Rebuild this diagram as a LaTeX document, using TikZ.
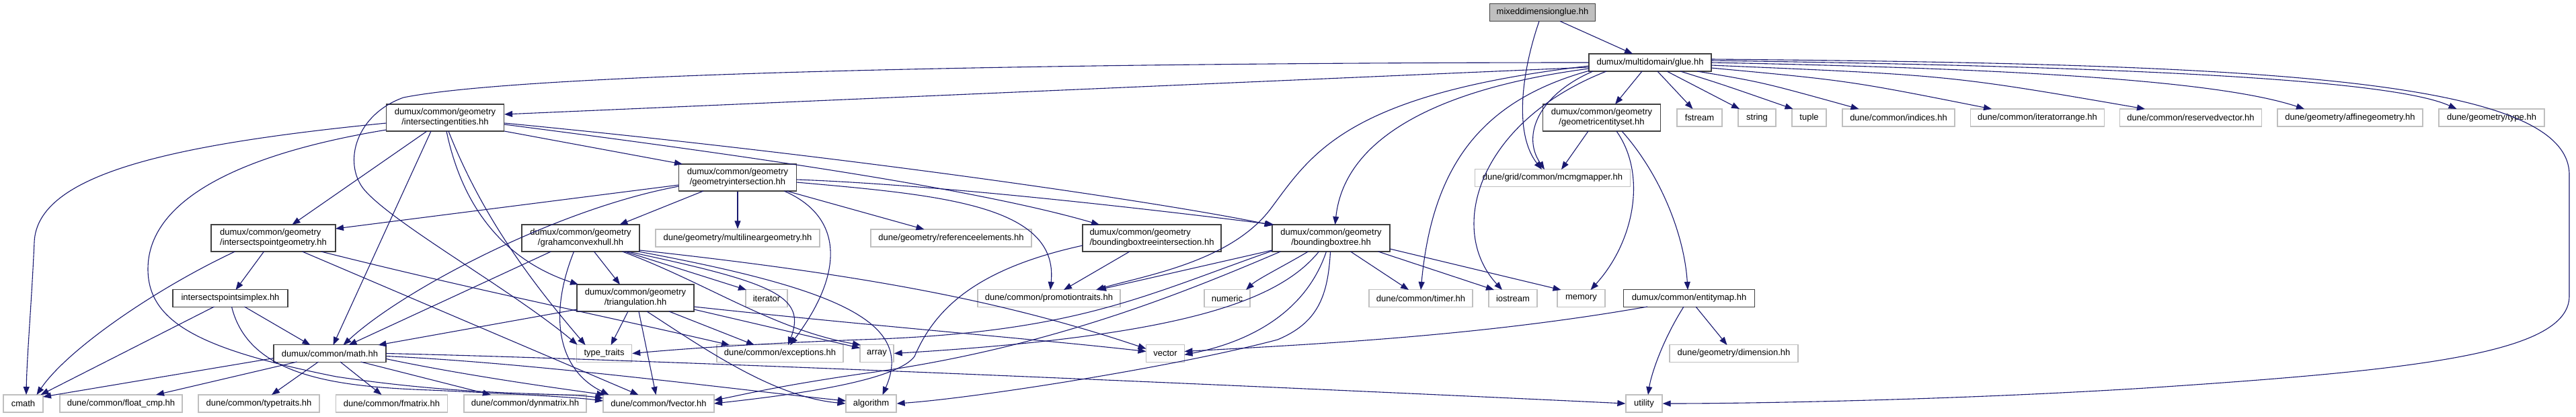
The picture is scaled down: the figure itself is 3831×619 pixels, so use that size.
\documentclass[tikz,border=0pt]{standalone}
\usepackage{fontspec}
\setmainfont{Liberation Sans}
\usetikzlibrary{arrows.meta,calc}
\definecolor{edgecol}{HTML}{191970}
\definecolor{dborder}{HTML}{404040}
\definecolor{xborder}{HTML}{BFBFBF}
\definecolor{rootfill}{HTML}{BFBFBF}
\begin{document}
\begin{tikzpicture}[x=1pt,y=-1pt,
  base/.style={rectangle,line width=1.3pt,inner sep=0pt,align=center,
    font=\fontsize{13}{15}\selectfont,text=black,minimum height=26pt},
  dnode/.style={base,draw=dborder,fill=white},
  xnode/.style={base,draw=xborder,fill=white},
  root/.style={base,draw=dborder,fill=rootfill},
  e/.style={draw=edgecol,line width=1.1pt,-{Triangle[length=12pt,width=9pt]}}]
\useasboundingbox (0,0) rectangle (3831,619);
% ---------- nodes ----------
\node[root,minimum width=157pt] (mdg) at (2294,18.5) {mixeddimensionglue.hh};
\node[dnode,minimum width=182pt] (glue) at (2454,93) {dumux/multidomain/glue.hh};
\node[dnode,minimum width=175pt,minimum height=40pt] (ie) at (662,175) {dumux/common/geometry\\/intersectingentities.hh};
\node[dnode,minimum width=175pt,minimum height=40pt] (gi) at (1097,264) {dumux/common/geometry\\/geometryintersection.hh};
\node[dnode,minimum width=175pt,minimum height=40pt] (ges) at (2382,175) {dumux/common/geometry\\/geometricentityset.hh};
\node[xnode,minimum width=67pt] (fstream) at (2527.5,175) {fstream};
\node[xnode,minimum width=56pt] (string) at (2613,175) {string};
\node[xnode,minimum width=51pt] (tuple) at (2690.5,175) {tuple};
\node[xnode,minimum width=167pt] (indices) at (2823.5,175) {dune/common/indices.hh};
\node[xnode,minimum width=199pt] (iterrange) at (3030,175) {dune/common/iteratorrange.hh};
\node[xnode,minimum width=211pt] (resvec) at (3258,175) {dune/common/reservedvector.hh};
\node[xnode,minimum width=216pt] (affine) at (3495,175) {dune/geometry/affinegeometry.hh};
\node[xnode,minimum width=157pt] (gtype) at (3705.5,175) {dune/geometry/type.hh};
\node[xnode,minimum width=231pt] (mcmg) at (2309,264.5) {dune/grid/common/mcmgmapper.hh};
\node[dnode,minimum width=185pt,minimum height=40pt] (ipg) at (406.5,354) {\begin{tabular}{@{}l@{}}dumux/common/geometry\\/intersectspointgeometry.hh\end{tabular}};
\node[dnode,minimum width=171pt] (ips) at (342.5,443.5) {intersectspointsimplex.hh};
\node[dnode,minimum width=167pt] (math) at (490.5,525.5) {dumux/common/math.hh};
\node[xnode,minimum width=59pt] (cmath) at (34.5,600) {cmath};
\node[xnode,minimum width=182pt] (fcmp) at (180,600) {dune/common/float\_cmp.hh};
\node[xnode,minimum width=180pt] (ttraits) at (385,600) {dune/common/typetraits.hh};
\node[xnode,minimum width=166pt] (fmatrix) at (582.5,600) {dune/common/fmatrix.hh};
\node[xnode,minimum width=182pt] (dynmat) at (781,600) {dune/common/dynmatrix.hh};
\node[xnode,minimum width=165pt] (fvector) at (979.5,600) {dune/common/fvector.hh};
\node[xnode,minimum width=75pt] (algorithm) at (1295.5,600) {algorithm};
\node[dnode,minimum width=175pt,minimum height=40pt] (gch) at (863.5,354) {dumux/common/geometry\\/grahamconvexhull.hh};
\node[xnode,minimum width=244pt] (mlg) at (1097,354) {dune/geometry/multilineargeometry.hh};
\node[dnode,minimum width=174pt,minimum height=40pt] (tri) at (945,443) {dumux/common/geometry\\/triangulation.hh};
\node[xnode,minimum width=62pt] (iterator) at (1140,443.5) {iterator};
\node[xnode,minimum width=82pt] (typetr) at (898.6,525.5) {type\_traits};
\node[xnode,minimum width=188pt] (exc) at (1160,525.5) {dune/common/exceptions.hh};
\node[xnode,minimum width=50pt] (array) at (1304,525.5) {array};
\node[xnode,minimum width=239pt] (refel) at (1414.5,354) {dune/geometry/referenceelements.hh};
\node[dnode,minimum width=206pt,minimum height=40pt] (bbti) at (1713,354) {\begin{tabular}{@{}l@{}}dumux/common/geometry\\/boundingboxtreeintersection.hh\end{tabular}};
\node[xnode,minimum width=212pt] (promo) at (1560,443.5) {dune/common/promotiontraits.hh};
\node[xnode,minimum width=68pt] (numeric) at (1825,443.5) {numeric};
\node[xnode,minimum width=57pt] (vector) at (1733,525.5) {vector};
\node[dnode,minimum width=175pt,minimum height=40pt] (bbt) at (1979.5,354) {dumux/common/geometry\\/boundingboxtree.hh};
\node[xnode,minimum width=154pt] (timer) at (2113,443.5) {dune/common/timer.hh};
\node[xnode,minimum width=72pt] (iostream) at (2250,443.5) {iostream};
\node[xnode,minimum width=71pt] (memory) at (2351.5,443.5) {memory};
\node[dnode,minimum width=195pt] (emap) at (2512,443.5) {dumux/common/entitymap.hh};
\node[xnode,minimum width=191pt] (dim) at (2578.5,525.5) {dune/geometry/dimension.hh};
\node[xnode,minimum width=54pt] (utility) at (2445,600) {utility};
% ---------- edges ----------
% mixeddimensionglue
\draw[e] ($(mdg)+(26,13)$) -- ($(glue)+(-26,-13)$);
\draw[e] ($(mdg)+(-5,13)$) .. controls (2262,110) and (2252,200) .. ($(mcmg)+(-16,-12.5)$);
% glue
\draw[e] ($(glue)+(-85,13)$) .. controls (2290,140) and (2262,200) .. ($(mcmg)+(-12,-12.5)$);
\draw[e] ($(glue)+(-12,13)$) -- ($(ges)+(20,-20)$);
\draw[e] ($(glue)+(11,13)$) -- ($(fstream)+(-10,-13)$);
\draw[e] ($(glue)+(25,13)$) -- ($(string)+(-26,-13)$);
\draw[e] ($(glue)+(45,13)$) .. controls (2560,125) .. ($(tuple)+(-24,-13)$);
\draw[e] ($(glue)+(70,13)$) .. controls (2620,122) .. ($(indices)+(-59,-13)$);
\draw[e] ($(glue)+(91,8)$) .. controls (2750,120) .. ($(iterrange)+(-68,-13)$);
\draw[e] ($(glue)+(91,4)$) .. controls (2900,112) .. ($(resvec)+(-68,-13)$);
\draw[e] ($(glue)+(91,0)$) .. controls (3000,102) and (3300,120) .. ($(affine)+(-68,-13)$);
\draw[e] ($(glue)+(91,-3)$) .. controls (3100,98) and (3550,115) .. ($(gtype)+(-52,-13)$);
\draw[e] ($(glue)+(91,-5)$) .. controls (3350,95) and (3821,115) .. (3821,260) -- (3821,440)
  .. controls (3821,525) and (3600,550) .. (3190,577) .. controls (2900,595) and (2600,600) .. (utility.east);
\draw[e] ($(glue)+(-91,7)$) -- ($(ie)+(88,-5)$);
\draw[e] ($(glue)+(-91,0)$) .. controls (1700,93) and (800,105) .. (600,145)
  .. controls (530,170) and (510,240) .. (540,280) .. controls (580,330) and (760,430) .. ($(typetr)+(-40,-13)$);
\draw[e] ($(glue)+(-91,9)$) .. controls (2150,130) and (2000,200) .. ($(bbt)+(6,-20)$);
\draw[e] ($(glue)+(-91,5)$) .. controls (2000,140) and (1950,230) .. (1890,310) .. controls (1830,390) and (1700,410) .. ($(promo)+(70,-12.5)$);
\draw[e] ($(glue)+(-90,12)$) .. controls (2200,150) and (2130,250) .. ($(timer)+(0,-12.5)$);
\draw[e] ($(glue)+(-65,13)$) .. controls (2200,180) and (2150,340) .. ($(iostream)+(-16,-12.5)$);
% geometricentityset
\draw[e] ($(ges)+(-20,20)$) -- ($(mcmg)+(13,-12.5)$);
\draw[e] ($(ges)+(22,20)$) .. controls (2450,260) and (2430,360) .. ($(memory)+(14,-12.5)$);
\draw[e] ($(ges)+(30,20)$) .. controls (2470,260) and (2505,350) .. ($(emap)+(-2,-12.5)$);
% entitymap
\draw[e] ($(emap)+(-8,12.5)$) .. controls (2470,510) and (2455,560) .. ($(utility)+(6,-13)$);
\draw[e] ($(emap)+(10,12.5)$) -- ($(dim)+(-10,-12.5)$);
\draw[e] ($(emap)+(-62,12.5)$) .. controls (2200,500) and (1950,512) .. ($(vector)+(28.5,-3)$);
% boundingboxtree
\draw[e] ($(bbt)+(29,20)$) -- ($(timer)+(-18,-12.5)$);
\draw[e] ($(bbt)+(70,20)$) -- ($(iostream)+(-28,-12.5)$);
\draw[e] ($(bbt)+(87.5,16)$) -- ($(memory)+(-30,-12.5)$);
\draw[e] ($(bbt)+(-34,20)$) .. controls (1910,395) and (1870,415) .. ($(numeric)+(28,-12.5)$);
\draw[e] ($(bbt)+(-18,20)$) .. controls (1900,450) and (1750,500) .. (array.east);
\draw[e] ($(bbt)+(-7,20)$) .. controls (1940,470) and (1850,510) .. ($(vector)+(28.5,2)$);
\draw[e] ($(bbt)+(-1,20)$) .. controls (1975,440) and (1960,480) .. (1900,505) .. controls (1750,545) and (1450,592) .. (algorithm.east);
\draw[e] ($(bbt)+(-87.5,18)$) -- ($(promo)+(73,-12.5)$);
\draw[e] ($(bbt)+(-87.5,19)$) .. controls (1700,440) and (1600,495) .. (1280,505) .. controls (1100,512) and (1000,520) .. (typetr.east);
\draw[e] ($(bbt)+(-75,20)$) .. controls (1750,440) and (1550,520) .. (1280,556) .. controls (1150,575) and (1100,588) .. ($(fvector)+(82.5,-5)$);
% boundingboxtreeintersection
\draw[e] ($(bbti)+(-33,20)$) -- ($(promo)+(22,-12.5)$);
\draw[e] ($(bbti)+(-103,11)$) .. controls (1450,400) and (1390,460) .. (1360,530) .. controls (1330,570) and (1150,590) .. ($(fvector)+(82.5,0)$);
% geometryintersection
\draw[e] ($(gi)+(87.5,7)$) .. controls (1400,290) and (1575,305) .. ($(promo)+(2,-12.5)$);
\draw[e] ($(gi)+(87.5,3)$) .. controls (1400,275) and (1700,310) .. ($(bbt)+(-85,-20)$);
\draw[e] ($(gi)+(-87.5,11)$) -- ($(ipg)+(92.5,-14)$);
\draw[e] ($(gi)+(-87.5,13)$) .. controls (830,310) and (600,430) .. ($(math)+(20,-12.5)$);
\draw[e] ($(gi)+(-51,20)$) -- ($(gch)+(58,-20)$);
\draw[e] (gi) -- (mlg);
\draw[e] ($(gi)+(69,20)$) .. controls (1250,320) and (1260,400) .. ($(exc)+(15,-12.5)$);
\draw[e] ($(gi)+(73,20)$) -- ($(refel)+(-40,-13)$);
% intersectingentities
\draw[e] ($(ie)+(88,10)$) .. controls (1100,230) and (1450,280) .. ($(bbti)+(-78,-20)$);
\draw[e] ($(ie)+(88,8)$) .. controls (1300,236) and (1750,305) .. ($(bbt)+(-87,-19)$);
\draw[e] ($(ie)+(88,20)$) -- ($(gi)+(-82,-20)$);
\draw[e] ($(ie)+(-27,20)$) -- ($(ipg)+(28,-20)$);
\draw[e] ($(ie)+(-21,20)$) -- ($(math)+(5,-12.5)$);
\draw[e] ($(ie)+(-87.3,8)$) .. controls (250,215) and (55,260) .. (51,360) .. controls (47,450) and (40,530) .. ($(cmath)+(4.5,-13)$);
\draw[e] ($(ie)+(-87.3,18)$) .. controls (350,230) and (220,300) .. (220,400) .. controls (220,480) and (300,520) .. (500,560) .. controls (700,590) and (830,583) .. ($(fvector)+(-82.5,-8)$);
\draw[e] ($(ie)+(2,20)$) .. controls (690,320) and (760,390) .. ($(tri)+(-85,-20)$);
\draw[e] ($(ie)+(5,20)$) .. controls (720,330) and (800,430) .. ($(typetr)+(-28,-12.5)$);
% grahamconvexhull
\draw[e] ($(gch)+(20,20)$) -- ($(tri)+(-23,-20)$);
\draw[e] ($(gch)+(66,20)$) -- ($(iterator)+(-30,-12.5)$);
\draw[e] ($(gch)+(-44,20)$) -- ($(math)+(28,-12.5)$);
\draw[e] ($(gch)+(-10,20)$) .. controls (815,470) and (830,550) .. ($(fvector)+(-74,-13)$);
\draw[e] ($(gch)+(70,20)$) .. controls (1150,420) and (1200,440) .. ($(exc)+(12,-12.5)$);
\draw[e] ($(gch)+(87.5,18)$) .. controls (1300,410) and (1500,450) .. ($(vector)+(-28.5,-7)$);
\draw[e] ($(gch)+(62,20)$) .. controls (1050,420) and (1150,490) .. ($(array)+(-24,-12.5)$);
\draw[e] ($(gch)+(86,20)$) .. controls (1250,430) and (1360,480) .. ($(algorithm)+(17,-13)$);
% triangulation
\draw[e] ($(tri)+(-11,20)$) -- ($(typetr)+(10,-12.5)$);
\draw[e] ($(tri)+(5,20)$) -- ($(fvector)+(-4,-13)$);
\draw[e] ($(tri)+(50,20)$) -- ($(exc)+(-38,-12.5)$);
\draw[e] ($(tri)+(-87,17)$) -- ($(math)+(72,-12.5)$);
\draw[e] ($(tri)+(17,20)$) .. controls (1050,520) and (1150,590) .. (algorithm.west);
\draw[e] ($(tri)+(87,17)$) -- ($(array)+(-25,-8)$);
\draw[e] ($(tri)+(87,13)$) .. controls (1300,485) and (1550,505) .. ($(vector)+(-28.5,-3)$);
% intersectspointgeometry
\draw[e] ($(ipg)+(-57,20)$) .. controls (230,430) and (100,520) .. ($(cmath)+(20,-13)$);
\draw[e] ($(ipg)+(-14,20)$) -- ($(ips)+(8,-12.5)$);
\draw[e] ($(ipg)+(71,20)$) .. controls (700,430) and (900,470) .. ($(exc)+(-75,-12.5)$);
\draw[e] ($(ipg)+(43,20)$) -- ($(fvector)+(-30,-13)$);
% intersectspointsimplex
\draw[e] ($(ips)+(-24,12.5)$) -- ($(cmath)+(26,-13)$);
\draw[e] ($(ips)+(21,12.5)$) -- ($(math)+(-29,-12.5)$);
\draw[e] ($(ips)+(2,12.5)$) .. controls (370,560) and (500,575) .. (640,580) .. controls (750,585) and (850,590) .. ($(fvector)+(-82.5,-4)$);
% math
\draw[e] ($(math)+(-83.5,7)$) -- ($(cmath)+(29.5,-10)$);
\draw[e] ($(math)+(-49,12.5)$) -- ($(fcmp)+(52,-13)$);
\draw[e] ($(math)+(-17,12.5)$) -- ($(ttraits)+(19,-13)$);
\draw[e] ($(math)+(15.5,12.5)$) -- ($(fmatrix)+(-15,-13)$);
\draw[e] ($(math)+(46,12.5)$) -- ($(dynmat)+(-51,-13)$);
\draw[e] ($(math)+(83.5,8)$) .. controls (700,560) and (850,580) .. ($(fvector)+(-80,-13)$);
\draw[e] ($(math)+(83.5,4)$) .. controls (800,540) and (1100,580) .. ($(algorithm)+(-37.5,-4)$);
\draw[e] ($(math)+(83.5,0)$) .. controls (1000,535) and (2000,580) .. (utility.west);
\end{tikzpicture}
\end{document}
